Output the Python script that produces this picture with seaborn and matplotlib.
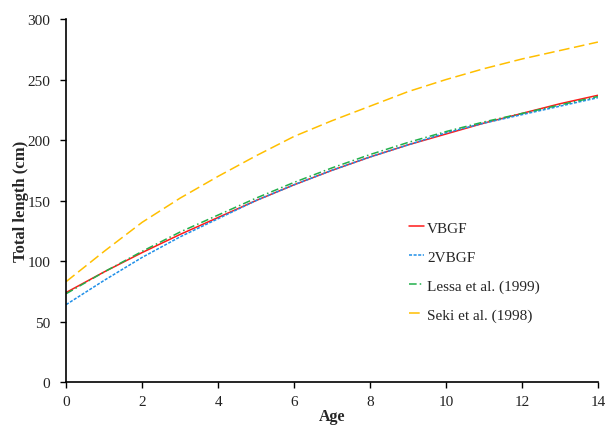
import matplotlib
matplotlib.use("Agg")
import matplotlib.pyplot as plt
import seaborn as sns
import pandas as pd

ages = [0, 1, 2, 3, 4, 5, 6, 7, 8, 9, 10, 11, 12, 13, 14]
vbgf = [74, 91, 107, 122, 136, 150, 163, 175, 186, 196, 205, 214, 222, 230, 237]
vbgf2 = [64, 84, 103, 120, 135, 150, 163, 175, 186, 196, 206, 214, 221, 228, 235]
lessa = [73, 91, 108, 124, 138, 152, 165, 177, 188, 198, 207, 215, 222, 229, 236]
seki = [83, 108, 132, 152, 170, 187, 203, 216, 228, 240, 250, 259, 267, 274, 281]

series_names = ["VBGF", "2VBGF", "Lessa et al. (1999)", "Seki et al. (1998)"]
series_values = [vbgf, vbgf2, lessa, seki]
colors = ["#ff1a1a", "#1f8fe8", "#22b04b", "#ffbf00"]
dashes = ["", (2, 1), (5, 2, 1, 2), (7, 3)]

x_ticks = [0, 2, 4, 6, 8, 10, 12, 14]
y_ticks = [0, 50, 100, 150, 200, 250, 300]

df = pd.concat(
    [pd.DataFrame({"Age": ages, "Length": vals, "Model": name})
     for name, vals in zip(series_names, series_values)],
    ignore_index=True,
)

sns.set_style("ticks")
plt.rcParams["font.family"] = ["Liberation Serif", "DejaVu Serif"]

fig = plt.figure(figsize=(6.07, 4.27), dpi=100)
ax = fig.add_axes([0.109, 0.103, 0.876, 0.850])

sns.lineplot(
    data=df, x="Age", y="Length", hue="Model", style="Model",
    palette=dict(zip(series_names, colors)),
    dashes=dict(zip(series_names, dashes)),
    linewidth=1.1, ax=ax,
)

ax.set_xlim(0, 14)
ax.set_ylim(0, 300)
ax.set_xticks(x_ticks)
ax.set_yticks(y_ticks)
ax.tick_params(axis="both", direction="out", length=4.5, width=1, labelsize=11,
               colors="black", labelcolor="#222222")
ax.tick_params(axis="x", pad=5)
ax.tick_params(axis="y", pad=7)
for side in ["top", "right"]:
    ax.spines[side].set_visible(False)
for side in ["left", "bottom"]:
    ax.spines[side].set_color("black")
    ax.spines[side].set_linewidth(1.2)

ax.set_xlabel("Age", fontsize=11.5, fontweight="bold", labelpad=0)
ax.set_ylabel("Total length (cm)", fontsize=12, fontweight="bold", labelpad=-1)

handles, labels = ax.get_legend_handles_labels()
ax.legend(handles, labels, loc="upper left", bbox_to_anchor=(0.63, 0.465),
          frameon=False, fontsize=11, handlelength=1.0, handletextpad=0.2,
          labelspacing=1.0, borderpad=0)

fig.savefig("out.png", dpi=100, facecolor="white")
